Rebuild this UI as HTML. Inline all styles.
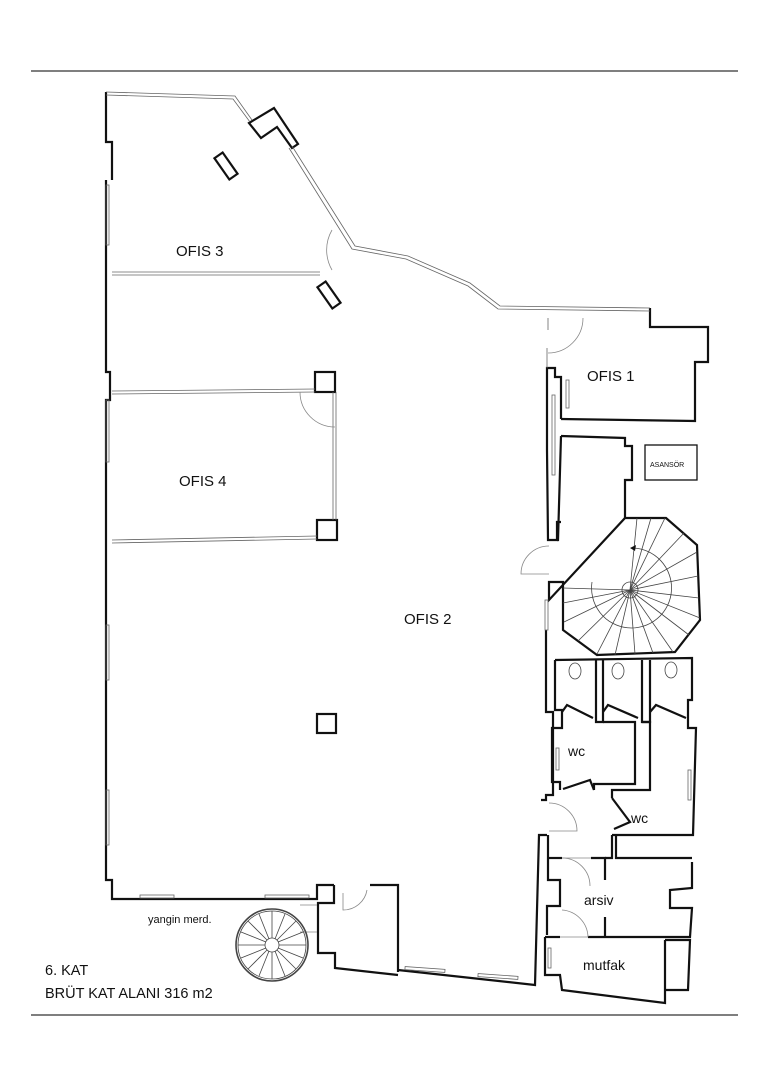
<!DOCTYPE html>
<html><head><meta charset="utf-8"><style>
html,body{margin:0;padding:0;background:#fff;}
svg{display:block}
text{font-family:"Liberation Sans",sans-serif;fill:#111}
</style></head><body>
<svg width="768" height="1086" viewBox="0 0 768 1086" xmlns="http://www.w3.org/2000/svg">
<rect width="768" height="1086" fill="#fff"/>
<line x1="31" y1="71" x2="738" y2="71" stroke="#333" stroke-width="1.3"/>
<line x1="31" y1="1015" x2="738" y2="1015" stroke="#333" stroke-width="1.3"/>

<g fill="none" stroke="#111" stroke-width="2.2" stroke-linejoin="miter">
<polyline points="106,92 106,142 112,142 112,180"/>
<polyline points="106,180 106,372 110,372 110,400 106,400 106,540 106,880 112,880 112,899 317,899 317,885 334,885"/>
<polyline points="650,308 650,327 708,327 708,362 695,362 695,421 561,419"/>
<polyline points="561,419 561,377 555,377 555,368 547,368 547,450 548,540 557,540 557,522 561,522"/>
<polyline points="561,436 625,438 625,446 632,446 632,480 625,480 625,518"/>
<polyline points="561,436 558,540 557,540"/>
<polygon points="625,518 666,518 697,545 700,620 675,652 597,655 563,630 563,582 549,582 549,600"/>
<polyline points="546,630 546,712 553,712 553,795 546,795 546,800 541,800"/>
<polyline points="555,660 692,658 692,700 688,700 688,728 696,728 693,835 612,835"/>
<polyline points="555,660 555,710 562,710 562,728 552,728 552,782 560,782 560,790"/>
<polyline points="596,660 596,722 603,722 603,660"/>
<polyline points="642,660 642,722 650,722 650,660"/>
<polyline points="562,712 567,705 593,718"/>
<polyline points="603,712 608,705 638,718"/>
<polyline points="650,712 656,705 686,718"/>
<polyline points="603,722 635,722 635,784 594,784 594,790"/>
<polyline points="642,722 650,722 650,790 612,790 612,798"/>
<polyline points="563,789 590,780 594,790"/>
<polyline points="612,798 630,822 614,829"/>
<polyline points="612,835 612,858 605,858"/>
<polyline points="616,835 616,858 692,858"/>
<polyline points="548,858 562,858"/>
<polyline points="591,858 605,858 605,880"/>
<polyline points="692,862 692,888 670,890 670,908 692,908 690,937 588,937"/>
<polyline points="605,917 605,937"/>
<polyline points="545,937 560,937"/>
<polyline points="548,858 548,880 560,880 560,906 547,906 547,935"/>
<polyline points="545,937 545,975 560,975 562,990 665,1003 665,940"/>
<polyline points="665,940 690,940 688,990 665,990"/>
<polyline points="547,835 539,835 535,985 398,970"/>
<polyline points="548,835 548,858"/>
<polyline points="334,885 334,903 318,903 318,953 335,953 335,968 398,975"/>
<polyline points="370,885 398,885 398,972"/>
<rect x="315" y="372" width="20" height="20"/>
<rect x="317" y="520" width="20" height="20"/>
<rect x="317" y="714" width="19" height="19"/>
<rect x="-5" y="-13" width="10" height="26" transform="translate(226,166) rotate(-35)"/>
<rect x="-5" y="-13" width="10" height="26" transform="translate(329,295) rotate(-35)"/>
<polygon points="249,123 274,108 298,144 292,148 277,127 261,138"/>
<rect x="645" y="445" width="52" height="35" stroke-width="1.3"/>
</g>

<g fill="none" stroke="#666" stroke-width="0.8">
<path d="M106,92 L235,96 L252,120 M292,146 L355,246 L408,256 L470,283 L500,306 L650,308"/>
<path d="M106,95 L233,99 L250,122 M289,148 L352,249 L406,259 L468,286 L498,309 L650,311"/>
<line x1="112" y1="272" x2="320" y2="272"/><line x1="112" y1="275" x2="320" y2="275"/>
<line x1="112" y1="391" x2="315" y2="389"/><line x1="112" y1="394" x2="315" y2="392"/>
<line x1="112" y1="540" x2="317" y2="536"/><line x1="112" y1="543" x2="317" y2="539"/>
<line x1="333" y1="392" x2="333" y2="520"/><line x1="336" y1="392" x2="336" y2="520"/>
<rect x="106" y="185" width="3" height="60"/>
<rect x="106" y="400" width="3" height="62"/>
<rect x="106" y="625" width="3" height="55"/>
<rect x="106" y="790" width="3" height="55"/>
<rect x="140" y="895" width="34" height="3"/>
<rect x="265" y="895" width="44" height="3"/>
<rect x="405" y="968" width="40" height="3" transform="rotate(4 425 969)"/>
<rect x="478" y="975" width="40" height="3" transform="rotate(4 498 976)"/>
<rect x="552" y="395" width="3" height="80"/>
<rect x="566" y="380" width="3" height="28"/>
<rect x="545" y="600" width="3" height="30"/>
<rect x="556" y="748" width="3" height="22"/>
<rect x="688" y="770" width="3" height="30"/>
<rect x="548" y="948" width="3" height="20"/>
<line x1="547" y1="348" x2="547" y2="368"/>
<line x1="548" y1="318" x2="548" y2="330"/>
</g>
<g fill="none" stroke="#888" stroke-width="0.8">
<path d="M332,230 A40,40 0 0 0 332,270"/>
<path d="M300,392 A35,35 0 0 0 335,427"/>
<path d="M583,318 A35,35 0 0 1 548,353"/>
<path d="M549,546 A28,28 0 0 0 521,574 L549,574"/>
<path d="M549,803 A28,28 0 0 1 577,831 L549,831"/>
<path d="M562,858 A28,28 0 0 1 590,886"/>
<path d="M562,910 A28,28 0 0 1 588,937"/>
<path d="M343,893 L343,910 A24,24 0 0 0 367,890"/>
<line x1="562" y1="858" x2="591" y2="858"/>
<line x1="560" y1="937" x2="588" y2="937"/>
<line x1="300" y1="905" x2="317" y2="905"/>
<line x1="300" y1="932" x2="317" y2="932"/>
</g>
<g fill="none" stroke="#444" stroke-width="0.8">
<circle cx="630" cy="590" r="8"/>
<path d="M592,582 A40,40 0 1 0 632,548"/>
<line x1="630" y1="590" x2="665" y2="518"/><line x1="630" y1="590" x2="684" y2="533"/>
<line x1="630" y1="590" x2="697" y2="552"/><line x1="630" y1="590" x2="698" y2="576"/>
<line x1="630" y1="590" x2="699" y2="598"/><line x1="630" y1="590" x2="700" y2="618"/>
<line x1="630" y1="590" x2="689" y2="635"/><line x1="630" y1="590" x2="673" y2="652"/>
<line x1="630" y1="590" x2="653" y2="653"/><line x1="630" y1="590" x2="635" y2="654"/>
<line x1="630" y1="590" x2="615" y2="655"/><line x1="630" y1="590" x2="597" y2="654"/>
<line x1="630" y1="590" x2="578" y2="641"/><line x1="630" y1="590" x2="564" y2="622"/>
<line x1="630" y1="590" x2="563" y2="603"/><line x1="630" y1="590" x2="563" y2="588"/>
<line x1="630" y1="590" x2="651" y2="518"/><line x1="630" y1="590" x2="637" y2="518"/>
<circle cx="272" cy="945" r="36" stroke-width="1.6"/>
<circle cx="272" cy="945" r="34"/>
<circle cx="272" cy="945" r="7"/>
<g transform="translate(272,945)">
<line x1="0" y1="-7" x2="0" y2="-34"/><line x1="0" y1="7" x2="0" y2="34"/>
<line x1="-7" y1="0" x2="-34" y2="0"/><line x1="7" y1="0" x2="34" y2="0"/>
<line x1="5" y1="5" x2="24" y2="24"/><line x1="-5" y1="-5" x2="-24" y2="-24"/>
<line x1="5" y1="-5" x2="24" y2="-24"/><line x1="-5" y1="5" x2="-24" y2="24"/>
<line x1="3" y1="-6" x2="13" y2="-31"/><line x1="-3" y1="6" x2="-13" y2="31"/>
<line x1="6" y1="3" x2="31" y2="13"/><line x1="-6" y1="-3" x2="-31" y2="-13"/>
<line x1="-3" y1="-6" x2="-13" y2="-31"/><line x1="3" y1="6" x2="13" y2="31"/>
<line x1="-6" y1="3" x2="-31" y2="13"/><line x1="6" y1="-3" x2="31" y2="-13"/>
</g>
<ellipse cx="575" cy="671" rx="6" ry="8"/><ellipse cx="618" cy="671" rx="6" ry="8"/><ellipse cx="671" cy="670" rx="6" ry="8"/>
</g>
<path d="M630,548 l6,-3 l-1,6z" fill="#111"/>

<g font-size="15">
<text x="176" y="256">OFIS 3</text>
<text x="179" y="486">OFIS 4</text>
<text x="404" y="624">OFIS 2</text>
<text x="587" y="381">OFIS 1</text>
<text x="568" y="756" font-size="14">wc</text>
<text x="631" y="823" font-size="14">wc</text>
<text x="584" y="905" font-size="14">arsiv</text>
<text x="583" y="970" font-size="14">mutfak</text>
<text x="45" y="975" font-size="14.5">6. KAT</text>
<text x="45" y="998" font-size="14.5">BRÜT KAT ALANI  316 m2</text>
</g>
<text x="650" y="467" font-size="7">ASANSÖR</text>
<text x="148" y="923" font-size="11" fill="#333">yangin  merd.</text>
</svg>
</body></html>
